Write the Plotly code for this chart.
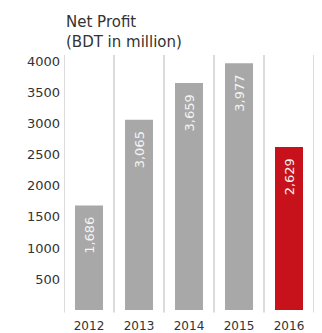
import plotly.graph_objects as go

years = ["2012", "2013", "2014", "2015", "2016"]
net_profit = [1686, 3065, 3659, 3977, 2629]
bar_colors = ["#a8a8a8", "#a8a8a8", "#a8a8a8", "#a8a8a8", "#c8121b"]
y_ticks = [500, 1000, 1500, 2000, 2500, 3000, 3500, 4000]

FONT = "'DejaVu Sans', sans-serif"

# value labels sit a little below the top of each bar
labels = [f"{v:,}\u00a0\u00a0" for v in net_profit]

fig = go.Figure(
    go.Bar(
        x=years,
        y=net_profit,
        marker=dict(color=bar_colors, line=dict(width=0)),
        width=0.56,
        text=labels,
        textposition="inside",
        insidetextanchor="end",
        textangle=-90,
        textfont=dict(color="#f4f4f4", size=13, family=FONT),
        hoverinfo="skip",
    )
)

# light separators between the year columns
shapes = []
for i in range(len(years) + 1):
    shapes.append(dict(
        type="line", xref="x", yref="paper",
        x0=i - 0.5, x1=i - 0.5, y0=-0.01, y1=1,
        line=dict(color="#cfcfcf", width=1.5),
        layer="below",
    ))

fig.update_layout(
    width=322, height=333,
    margin=dict(l=64, r=8, t=55, b=23),
    paper_bgcolor="white", plot_bgcolor="white",
    showlegend=False,
    shapes=shapes,
    font=dict(family=FONT, color="#333333"),
    annotations=[dict(
        text="Net Profit<br>(BDT in million)",
        xref="paper", yref="paper", x=0, y=1.0, xanchor="left", yanchor="bottom",
        yshift=2, align="left", showarrow=False,
        font=dict(size=15, color="#333333", family=FONT),
    )],
    xaxis=dict(
        range=[-0.5, 4.5], showgrid=False, zeroline=False, showline=False,
        ticks="", tickfont=dict(size=12, color="#333333"), ticklabelstandoff=7,
        automargin=False,
    ),
    yaxis=dict(
        range=[0, 4110], tickvals=y_ticks, showgrid=False, zeroline=False,
        showline=False, ticks="", tickfont=dict(size=13, color="#333333"),
        ticklabelstandoff=3, automargin=False,
    ),
)

fig.write_html("out.html")
